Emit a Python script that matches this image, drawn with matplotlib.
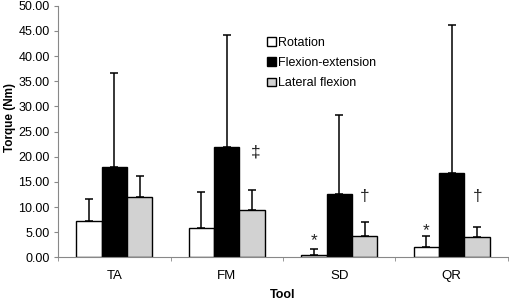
import numpy as np
import matplotlib
matplotlib.use('Agg')
import matplotlib.pyplot as plt

plt.rcParams['font.family'] = ['Liberation Sans', 'DejaVu Sans']

tools = ['TA', 'FM', 'SD', 'QR']
series = ['Rotation', 'Flexion-extension', 'Lateral flexion']
rotacao = [7.2, 5.9, 0.5, 2.0]
rotacao_sd = [4.3, 7.1, 1.15, 2.2]
flexao = [18.0, 22.0, 12.5, 16.8]
flexao_sd = [18.7, 22.2, 15.8, 29.4]
lateral = [12.0, 9.5, 4.2, 4.0]
lateral_sd = [4.2, 3.9, 2.9, 2.0]
cores = ['white', 'black', '#d2d2d2']

# marcas de significancia: (grupo, serie, simbolo, altura do centro)
marcas = [(1, 2, '\u2021', 20.9), (2, 2, '\u2020', 12.0), (3, 2, '\u2020', 12.0),
          (2, 0, '*', 3.3), (3, 0, '*', 5.3)]

fig = plt.figure(figsize=(5.09, 3.01), dpi=100)
ax = fig.add_axes([0.114, 0.145, 0.884, 0.836])

x = np.arange(len(tools))
largura = 0.226
valores = [rotacao, flexao, lateral]
desvios = [rotacao_sd, flexao_sd, lateral_sd]
for i, (v, d) in enumerate(zip(valores, desvios)):
    pos = x + (i - 1) * largura
    ax.bar(pos, v, largura, color=cores[i], edgecolor='black', linewidth=1.0,
           label=series[i], zorder=2)
    ax.errorbar(pos, v, yerr=[np.zeros(len(v)), d], fmt='none', ecolor='black',
                elinewidth=1.1, capsize=2.8, capthick=1.1, zorder=1)

for g, s, simb, h in marcas:
    dx = 0.03 if simb == '\u2021' else 0.0
    ax.text(x[g] + (s - 1) * largura + dx, h, simb, ha='center', va='center',
            fontsize=12.5, color='#222222')

ax.set_xlim(-0.5, len(tools) - 0.5)
ax.set_ylim(0, 50)
ax.set_yticks(np.arange(0, 50.1, 5))
ax.set_yticklabels(['%.2f' % t for t in np.arange(0, 50.1, 5)], fontsize=9)
ax.set_xticks(x)
ax.set_xticklabels(tools, fontsize=9.5)
ax.set_xticks(np.arange(-0.5, len(tools), 1), minor=True)
ax.tick_params(axis='x', which='major', length=0, pad=9)
ax.tick_params(axis='x', which='minor', length=3, color='#888888')
ax.tick_params(axis='y', length=3, color='#888888', pad=3)
for lado in ['top', 'right']:
    ax.spines[lado].set_visible(False)
for lado in ['left', 'bottom']:
    ax.spines[lado].set_color('#888888')

ax.set_ylabel('Torque (Nm)', fontsize=8.5, fontweight='bold', va='center')
ax.yaxis.set_label_coords(-0.107, 0.556)
ax.set_xlabel('Tool', fontsize=9, fontweight='bold', va='center')
ax.xaxis.set_label_coords(0.5, -0.15)

ax.legend(loc='upper left', bbox_to_anchor=(0.439, 0.92), frameon=False,
          fontsize=9, handlelength=0.7, handleheight=0.7, handletextpad=0.2,
          labelspacing=0.65)

fig.savefig('out.png', dpi=100)
